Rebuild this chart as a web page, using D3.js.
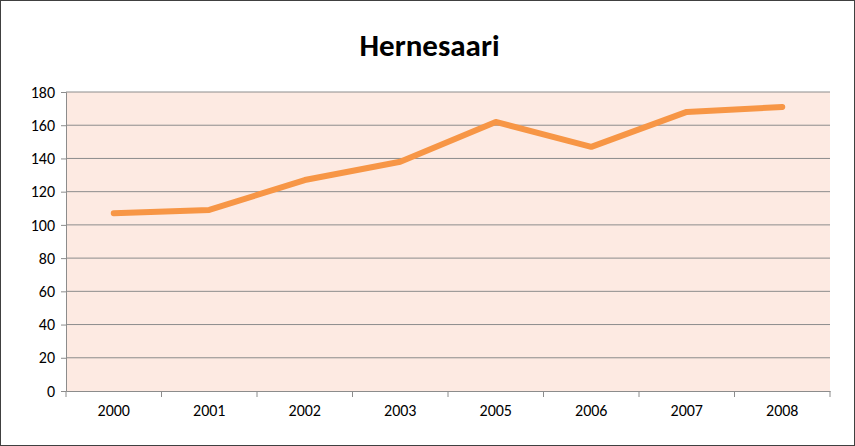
<!DOCTYPE html>
<html>
<head>
<meta charset="utf-8">
<script src="https://cdn.jsdelivr.net/npm/d3@7"></script>
<style>
  body { margin: 0; background: #fff; }
  text { font-family: Calibri, "Liberation Sans", "DejaVu Sans", sans-serif; }
</style>
</head>
<body>
<svg id="chart" width="855" height="446"></svg>
<script>
// chart data
var years = ["2000", "2001", "2002", "2003", "2005", "2006", "2007", "2008"];
var values = [107, 109, 127, 138, 162, 147, 168, 171];
var yTicks = [0, 20, 40, 60, 80, 100, 120, 140, 160, 180];

var svg = d3.select("#chart");
var m = { left: 66, right: 25, top: 92, bottom: 55 };
var W = 855, H = 446;

svg.append("rect").attr("x", 0.5).attr("y", 0.5).attr("width", W - 1).attr("height", H - 1)
  .attr("fill", "#fff").attr("stroke", "#404040").attr("stroke-width", 1);

svg.append("text").attr("x", W / 2 + 2).attr("y", 56).attr("text-anchor", "middle")
  .attr("font-size", 31).attr("font-weight", "bold").attr("fill", "#000").text("Hernesaari");

var x = d3.scaleBand().domain(years).range([m.left, W - m.right]);
var y = d3.scaleLinear().domain([0, 180]).range([H - m.bottom, m.top]);

svg.append("rect").attr("x", m.left).attr("y", m.top)
  .attr("width", W - m.left - m.right).attr("height", H - m.top - m.bottom)
  .attr("fill", "#fdeae2");

// gridlines
svg.append("g").selectAll("line").data(yTicks.slice(1)).join("line")
  .attr("x1", m.left).attr("x2", W - m.right)
  .attr("y1", function(d){ return y(d); }).attr("y2", function(d){ return y(d); })
  .attr("stroke", "#8c8c8c").attr("stroke-width", 1);

var yAxis = svg.append("g").attr("transform", "translate(" + m.left + ",0)")
  .call(d3.axisLeft(y).tickValues(yTicks).tickSize(5).tickPadding(6));
var xAxis = svg.append("g").attr("transform", "translate(0," + (H - m.bottom) + ")")
  .call(d3.axisBottom(x).tickSize(0).tickPadding(14));
// ticks at band boundaries
xAxis.selectAll(".bnd").data(years.concat(["end"])).join("line")
  .attr("x1", function(d, i){ return m.left + i * x.step(); })
  .attr("x2", function(d, i){ return m.left + i * x.step(); })
  .attr("y1", 0).attr("y2", 6).attr("stroke", "#8c8c8c");

[yAxis, xAxis].forEach(function(a){
  a.selectAll("path.domain, .tick line").attr("stroke", "#8c8c8c");
  a.selectAll("text").attr("font-size", 16).attr("fill", "#000")
    .attr("font-family", "Calibri, 'Liberation Sans', 'DejaVu Sans', sans-serif");
});

var line = d3.line()
  .x(function(d, i){ return x(years[i]) + x.bandwidth() / 2; })
  .y(function(d){ return y(d); });

svg.append("path").datum(values).attr("d", line)
  .attr("fill", "none").attr("stroke", "#f79646").attr("stroke-width", 6)
  .attr("stroke-linejoin", "round").attr("stroke-linecap", "round");
</script>
</body>
</html>
